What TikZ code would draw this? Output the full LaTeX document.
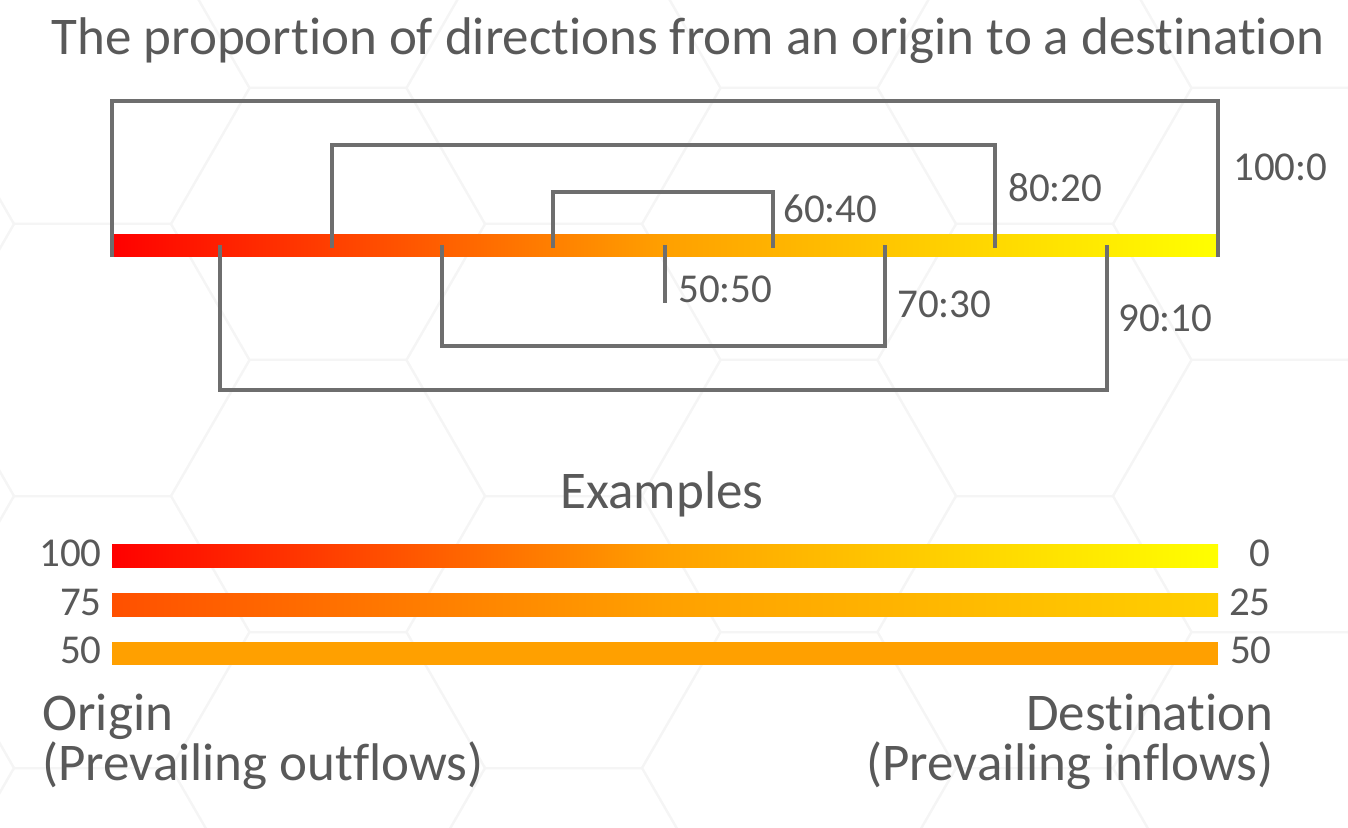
\documentclass[tikz,border=0pt]{standalone}
\usepackage{fontspec}
\setmainfont{Carlito}[Ligatures={NoCommon,NoDiscretionary,NoContextual}]
\definecolor{txt}{HTML}{595959}
\definecolor{ln}{HTML}{6E6E6E}
\definecolor{hexc}{HTML}{F5F5F5}
\definecolor{cred}{HTML}{FF0000}
\definecolor{corange}{HTML}{FFA000}
\definecolor{cyellow}{HTML}{FFFF00}
\colorlet{cq}{cred!50!corange}
\colorlet{ctq}{corange!50!cyellow}
\tikzset{
  bracket/.style={draw=ln, line width=1.7pt},
  lbl/.style={text=txt, font=\fontsize{20.5}{24}\selectfont, inner sep=0pt},
  big/.style={text=txt, font=\fontsize{26.5}{32}\selectfont, inner sep=0pt},
  hexline/.style={draw=hexc, line width=1pt},
}
\begin{document}
\begin{tikzpicture}[x=0.5pt,y=-0.5pt]
\useasboundingbox (0,0) rectangle (1348,828);
\fill[white] (0,0) rectangle (1348,828);
% faint honeycomb background
\begin{scope}
\clip (0,0) rectangle (1348,828);
\foreach \i in {-1,...,6}{
  \foreach \j in {-1,...,3}{
    \pgfmathsetmacro{\cx}{92.5+235.5*\i}
    \pgfmathsetmacro{\cy}{88+272*\j+136*mod(\i+2,2)}
    \draw[hexline] (\cx+157,\cy) -- (\cx+78.5,\cy+136) -- (\cx-78.5,\cy+136)
      -- (\cx-157,\cy) -- (\cx-78.5,\cy-136) -- (\cx+78.5,\cy-136) -- cycle;
  }
}
\end{scope}

% title
\node[big, anchor=base] (title) at (688,55) {The proportion of directions from an origin to a destination};

% main gradient bar
\shade[left color=cred, right color=cyellow, middle color=corange] (112,235) rectangle (1218,257);

% bracket end points
\coordinate (a100L) at (112,257);  \coordinate (a100R) at (1218,257);
\coordinate (a80L)  at (332,248);  \coordinate (a80R)  at (995,248);
\coordinate (a60L)  at (553,248);  \coordinate (a60R)  at (773,248);
\coordinate (b50)   at (665,245);  \coordinate (b50E)  at (665,303);
\coordinate (b70L)  at (442,245);  \coordinate (b70R)  at (885,245);
\coordinate (b90L)  at (220,245);  \coordinate (b90R)  at (1107,245);
\coordinate (k100) at (665,101);
\coordinate (k80)  at (665,145);
\coordinate (k60)  at (665,192);
\coordinate (k70)  at (665,346);
\coordinate (k90)  at (665,390);

% brackets above
\draw[bracket] (a100L) |- (k100) -| (a100R);
\draw[bracket] (a80L) |- (k80) -| (a80R);
\draw[bracket] (a60L) |- (k60) -| (a60R);
% brackets below
\draw[bracket] (b50) -- (b50E);
\draw[bracket] (b70L) |- (k70) -| (b70R);
\draw[bracket] (b90L) |- (k90) -| (b90R);

% ratio labels
\node[lbl, anchor=base west] (l100) at (1233,181) {100:0};
\node[lbl, anchor=base west] (l80)  at (1008,202) {80:20};
\node[lbl, anchor=base west] (l60)  at (783,223)  {60:40};
\node[lbl, anchor=base west] (l50)  at (678,303)  {50:50};
\node[lbl, anchor=base west] (l70)  at (897,318)  {70:30};
\node[lbl, anchor=base west] (l90)  at (1118,332) {90:10};

% examples
\node[big, anchor=base] (ex) at (662,508) {Examples};
\shade[left color=cred, right color=cyellow, middle color=corange] (112,544) rectangle (1218,567);
\shade[left color=cq, right color=ctq, middle color=corange] (112,593) rectangle (1218,616);
\fill[corange] (112,642) rectangle (1218,665);

\node[lbl, anchor=base east] (e100) at (102,566) {100};
\node[lbl, anchor=base east] (e75)  at (102,615) {75};
\node[lbl, anchor=base east] (e50)  at (102,663) {50};
\node[lbl, anchor=base east] (f0)   at (1271,566) {0};
\node[lbl, anchor=base east] (f25)  at (1271,615) {25};
\node[lbl, anchor=base east] (f50)  at (1272,663) {50};

% origin / destination
\node[big, anchor=base west] (orig1) at (42,730) {Origin};
\node[big, anchor=base west] (orig2) at (42,780) {(Prevailing outflows)};
\node[big, anchor=base east] (dest1) at (1274,730) {Destination};
\node[big, anchor=base east] (dest2) at (1274,780) {(Prevailing inflows)};
\end{tikzpicture}
\end{document}
